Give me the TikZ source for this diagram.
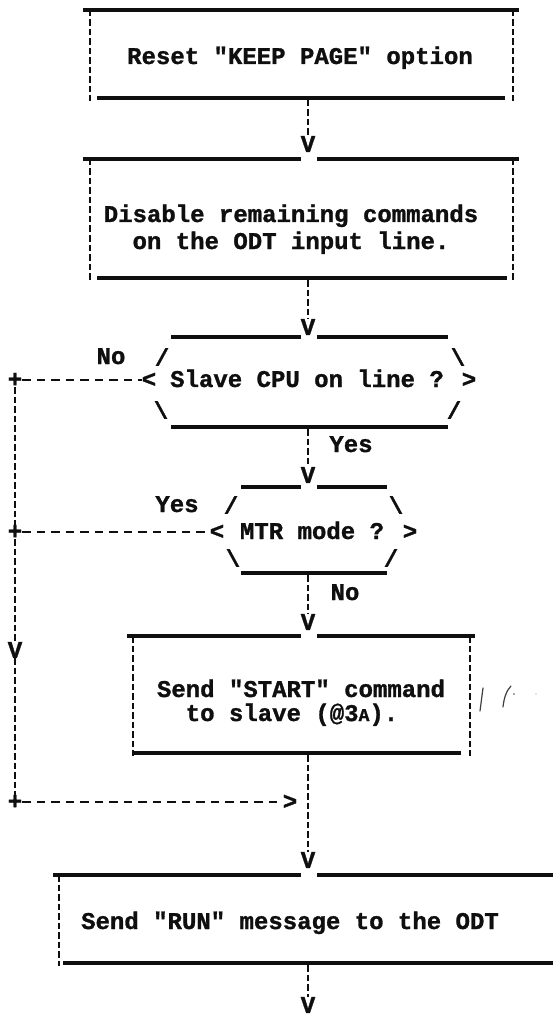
\documentclass[tikz,border=0pt]{standalone}
\usepackage{fontspec}
\newfontfamily\typewriter{Liberation Mono}[BoldFeatures={FakeBold=1.2}]
\definecolor{ink}{gray}{0.06}
\tikzset{
  glyph/.style={font=\typewriter\bfseries\fontsize{24}{28}\selectfont, text=ink, inner sep=0pt},
  label/.style={glyph, anchor=base},
  rule/.style={draw=ink, line width=3.1pt},
  side/.style={draw=ink, line width=2.5pt, dash pattern=on 6.5pt off 3pt},
  hflow/.style={draw=ink, line width=2.5pt, dash pattern=on 8.5pt off 6pt},
  vflow/.style={side},
  pen/.style={draw=ink!80, line width=1.2pt, line cap=round},
}
\begin{document}
\begin{tikzpicture}[x=1pt, y=-1pt]
\fill[white] (0,0) rectangle (553,1016);
\useasboundingbox (0,0) rectangle (553,1016);

% --- Reset "KEEP PAGE" option
\draw[rule] (83,10) -- (519,10);
\draw[side] (90,10) -- (90,101);
\draw[side] (513,10) -- (513,101);
\draw[rule] (97,98) -- (505,98);
\node[label] (reset) at (300,64) {Reset "KEEP PAGE" option};
\coordinate (reset-out) at (308,100);
\node[glyph] (v1) at (308,144) {V};
\draw[vflow] (reset-out) -- (v1.north);

% --- Disable remaining commands
\draw[rule] (83,159) -- (301,159);
\draw[rule] (317,159) -- (519,159);
\draw[side] (90,159) -- (90,281);
\draw[side] (513,159) -- (513,281);
\draw[rule] (97,278) -- (507,278);
\node[label] (disable) at (291,222) {Disable remaining commands};
\node[label] (disable2) at (291,249) {on the ODT input line.};
\coordinate (disable-out) at (308,280);
\node[glyph] (v2) at (308,327) {V};
\draw[vflow] (disable-out) -- (v2.north);

% --- Decision: slave CPU on line
\draw[rule] (171,337) -- (301,337);
\draw[rule] (317,337) -- (448,337);
\node[glyph] (d1a) at (162,357) {/};
\node[glyph] (d1b) at (458,357) {\textbackslash};
\node[glyph] (d1l) at (149,380) {<};
\node[glyph] (d1r) at (469,380) {>};
\node[label] (slave) at (307,387) {Slave CPU on line ?};
\node[glyph] (d1c) at (161,410) {\textbackslash};
\node[glyph] (d1d) at (454,410) {/};
\draw[rule] (171,427) -- (448,427);
\node[label] (no1) at (111,364) {No};
\node[glyph] (j1) at (15,380) {+};
\draw[hflow] (j1.east) -- (d1l.west);
\coordinate (slave-out) at (308,429);
\node[label] (yes1) at (351,452) {Yes};
\node[glyph] (v3) at (308,475) {V};
\draw[vflow] (slave-out) -- (v3.north);

% --- Decision: MTR mode
\draw[rule] (241,487) -- (301,487);
\draw[rule] (317,487) -- (387,487);
\node[glyph] (d2a) at (231,505) {/};
\node[glyph] (d2b) at (396,505) {\textbackslash};
\node[glyph] (d2l) at (217,532) {<};
\node[glyph] (d2r) at (410,532) {>};
\node[label] (mtr) at (312,539) {MTR mode ?};
\node[glyph] (d2c) at (233,558) {\textbackslash};
\node[glyph] (d2d) at (391,558) {/};
\draw[rule] (241,573) -- (387,573);
\node[label] (yes2) at (177,512) {Yes};
\node[glyph] (j2) at (15,532) {+};
\draw[hflow] (j2.east) -- (d2l.west);
\coordinate (mtr-out) at (308,575);
\node[label] (no2) at (345,600) {No};
\node[glyph] (v4) at (308,622) {V};
\draw[vflow] (mtr-out) -- (v4.north);

% --- Send "START" command
\draw[rule] (127,636) -- (301,636);
\draw[rule] (317,636) -- (475,636);
\draw[side] (133,636) -- (133,756);
\draw[side] (470,636) -- (470,756);
\draw[rule] (132,753) -- (461,753);
\node[label] (start) at (301,697) {Send "START" command};
\node[label] (start2) at (292,721) {to slave (@3{\fontsize{18}{20}\selectfont A}).};
\coordinate (start-out) at (308,755);

% pencil marks beside the box
\draw[pen] (483,688) -- (480,711);
\draw[pen] (503,707) .. controls (504,697) and (507,690) .. (511,686);
\fill[ink!70] (514,694) circle (0.9pt);
\fill[ink!50] (536,694) circle (0.7pt);

% --- bypass on the left
\node[glyph] (lv) at (15,650) {V};
\node[glyph] (j3) at (15,802) {+};
\node[glyph] (m) at (290,802) {>};
\draw[vflow] (j1.south) -- (j2.north);
\draw[vflow] (j2.south) -- (lv.north);
\draw[vflow] (lv.south) -- (j3.north);
\draw[hflow] (j3.east) -- (m.west);
\node[glyph] (v5) at (308,860) {V};
\draw[vflow] (start-out) -- (v5.north);

% --- Send "RUN" message
\draw[rule] (53,875) -- (301,875);
\draw[rule] (317,875) -- (553,875);
\draw[side] (59,875) -- (59,966);
\draw[rule] (63,963) -- (553,963);
\node[label] (run) at (290,929) {Send "RUN" message to the ODT};
\coordinate (run-out) at (308,965);
\node[glyph] (v6) at (308,1005) {V};
\draw[vflow] (run-out) -- (v6.north);
\end{tikzpicture}
\end{document}
